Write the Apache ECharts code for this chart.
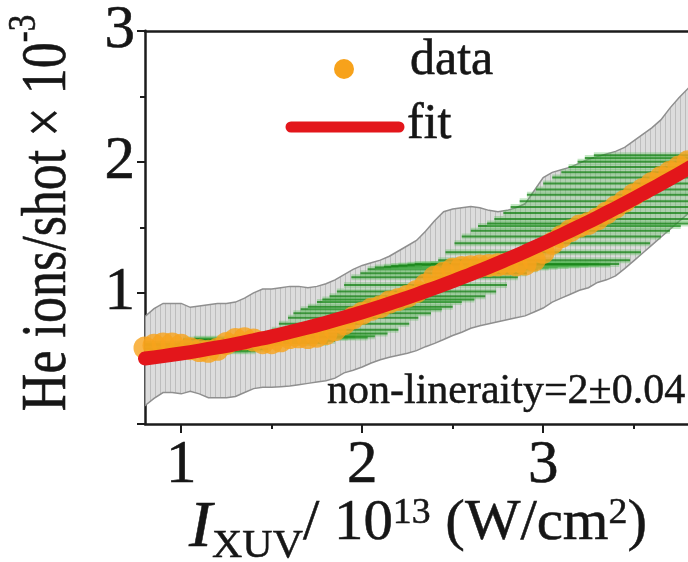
<!DOCTYPE html>
<html>
<head>
<meta charset="utf-8">
<script src="https://cdn.jsdelivr.net/npm/echarts@6/dist/echarts.min.js"></script>
<style>
  html, body { margin: 0; padding: 0; background: #ffffff; }
  #chart { width: 688px; height: 562px; }
</style>
</head>
<body>
<div id="chart"></div>
<script>
// XUV intensity (10^13 W/cm^2) of each measurement
const intensity = [0.80,0.85,0.90,0.95,1.00,1.05,1.10,1.15,1.20,1.25,
  1.30,1.35,1.40,1.45,1.50,1.55,1.60,1.65,1.70,1.75,
  1.80,1.85,1.90,1.95,2.00,2.05,2.10,2.15,2.20,2.25,
  2.30,2.35,2.40,2.45,2.50,2.55,2.60,2.65,2.70,2.75,
  2.80,2.85,2.90,2.95,3.00,3.05,3.10,3.15,3.20,3.25,
  3.30,3.35,3.40,3.45,3.50,3.55,3.60,3.65,3.70,3.75,
  3.80,3.85,3.90];

// He ion yield per shot (x 10^-3)
const ionYield = [0.58,0.60,0.61,0.61,0.60,0.575,0.56,0.555,0.57,0.615,
  0.645,0.65,0.64,0.62,0.62,0.635,0.66,0.665,0.66,0.67,
  0.69,0.72,0.765,0.81,0.845,0.875,0.895,0.93,0.95,0.975,
  1.01,1.06,1.12,1.15,1.18,1.195,1.20,1.205,1.21,1.215,
  1.22,1.215,1.22,1.25,1.31,1.38,1.43,1.475,1.51,1.53,
  1.565,1.61,1.655,1.70,1.75,1.79,1.835,1.88,1.92,1.96,
  2.00,2.03,2.05];

// upper end of the yield error bars
const yieldHigh = [0.82,0.88,0.92,0.92,0.92,0.89,0.90,0.91,0.92,0.92,
  0.93,0.96,1.00,1.03,1.03,1.04,1.05,1.05,1.04,1.05,
  1.07,1.10,1.14,1.18,1.21,1.23,1.25,1.28,1.32,1.36,
  1.40,1.47,1.55,1.62,1.64,1.65,1.66,1.65,1.63,1.62,
  1.63,1.65,1.68,1.78,1.88,1.92,1.94,1.96,1.99,2.02,
  2.04,2.06,2.08,2.11,2.16,2.21,2.26,2.32,2.41,2.49,
  2.56,2.62,2.68];

// lower end of the yield error bars
const yieldLow = [0.14,0.195,0.24,0.24,0.23,0.25,0.23,0.20,0.20,0.20,
  0.21,0.24,0.27,0.28,0.28,0.285,0.29,0.30,0.31,0.32,
  0.33,0.35,0.39,0.41,0.435,0.465,0.49,0.51,0.525,0.54,
  0.56,0.59,0.615,0.645,0.675,0.70,0.73,0.75,0.765,0.78,
  0.795,0.81,0.825,0.855,0.885,0.93,0.96,0.99,1.02,1.04,
  1.08,1.10,1.13,1.185,1.245,1.305,1.365,1.425,1.485,1.545,
  1.605,1.66,1.71];

// half width of the intensity error bars
const intensityErr = [0.22,0.24,0.25,0.24,0.26,0.25,0.27,0.26,0.28,0.27,
  0.29,0.28,0.30,0.29,0.31,0.30,0.32,0.31,0.33,0.32,
  0.34,0.35,0.36,0.36,0.38,0.39,0.40,0.40,0.42,0.43,
  0.44,0.45,0.46,0.46,0.47,0.48,0.48,0.49,0.50,0.50,
  0.51,0.52,0.52,0.53,0.54,0.54,0.55,0.55,0.56,0.56,
  0.57,0.57,0.58,0.58,0.59,0.59,0.60,0.60,0.60,0.61,
  0.61,0.62,0.62];

// power-law fit curve (non-linearity 2)
const fitIntensity = [0.8,0.9,1.0,1.1,1.2,1.3,1.4,1.5,1.6,1.7,1.8,1.9,2.0,2.1,2.2,2.3,
  2.4,2.5,2.6,2.7,2.8,2.9,3.0,3.1,3.2,3.3,3.4,3.5,3.6,3.7,3.8,3.9];
const fitYield = [0.500,0.518,0.538,0.560,0.584,0.610,0.639,0.669,0.702,0.736,0.773,0.812,
  0.853,0.896,0.941,0.988,1.038,1.089,1.143,1.198,1.256,1.316,1.378,1.442,1.508,1.576,
  1.647,1.719,1.794,1.870,1.949,2.030];

// axis ticks
const xTickValues = [1, 2, 3];
const xMinorTickValues = [1.5, 2.5, 3.5];
const yMin = 0, yMax = 3, yStep = 1;

const SERIF = 'Liberation Serif';
const AXIS_COLOR = '#1c1c1c';
const TEXT_COLOR = '#161616';
const ORANGE = '#f7a21b';
const RED = '#e3161b';
// slight outline so the serif glyphs read as heavy as in print
const INK = { textBorderColor: TEXT_COLOR, textBorderWidth: 0.6 };

// light grey fill with fine vertical hatching for the yield error band
function makeHatch() {
  const c = document.createElement('canvas');
  c.width = 5; c.height = 4;
  const g = c.getContext('2d');
  g.fillStyle = '#dcdcdc';
  g.fillRect(0, 0, 5, 4);
  g.fillStyle = '#bdbdbd';
  g.fillRect(0, 0, 1, 4);
  return c;
}
const bandFill = { image: makeHatch(), repeat: 'repeat' };

const points = intensity.map((x, i) => [x, ionYield[i], yieldLow[i], yieldHigh[i], intensityErr[i]]);
const fitLine = fitIntensity.map((x, i) => [x, fitYield[i]]);

const chart = echarts.init(document.getElementById('chart'), null, { renderer: 'canvas' });

chart.setOption({
  backgroundColor: '#ffffff',
  animation: false,
  textStyle: { fontFamily: SERIF },
  grid: { left: 145, right: 0, top: 24, bottom: 138 },
  xAxis: [
    {
      type: 'value', position: 'bottom', min: 0.8, max: 3.8,
      axisLine: { show: true, lineStyle: { color: AXIS_COLOR, width: 2.5 } },
      axisTick: { show: true, customValues: xTickValues, length: 9, lineStyle: { color: AXIS_COLOR, width: 2 } },
      axisLabel: Object.assign({ show: true, customValues: xTickValues, margin: 11, color: TEXT_COLOR,
        fontFamily: SERIF, fontSize: 61 }, INK),
      splitLine: { show: false }
    },
    {
      type: 'value', position: 'bottom', min: 0.8, max: 3.8,
      axisLine: { show: false },
      axisTick: { show: true, customValues: xMinorTickValues, length: 5, lineStyle: { color: AXIS_COLOR, width: 2 } },
      axisLabel: { show: false },
      splitLine: { show: false }
    },
    {
      type: 'value', position: 'top', min: 0.8, max: 3.8,
      axisLine: { show: true, lineStyle: { color: AXIS_COLOR, width: 2.5 } },
      axisTick: { show: false }, axisLabel: { show: false }, splitLine: { show: false }
    }
  ],
  yAxis: {
    type: 'value', min: yMin, max: yMax, interval: yStep,
    axisLine: { show: true, lineStyle: { color: AXIS_COLOR, width: 2.5 } },
    axisTick: { show: true, length: 8, lineStyle: { color: AXIS_COLOR, width: 2 } },
    minorTick: { show: true, splitNumber: 2, length: 5, lineStyle: { color: AXIS_COLOR, width: 2 } },
    axisLabel: Object.assign({ show: true, showMinLabel: false, margin: 10, color: TEXT_COLOR,
      fontFamily: SERIF, fontSize: 61 }, INK),
    splitLine: { show: false }
  },
  series: [
    {
      // yield error band
      type: 'custom', name: 'yield error', z: 1, clip: true,
      xAxisIndex: 0, yAxisIndex: 0,
      data: points,
      encode: { x: 0, y: [2, 3] },
      renderItem: function (params, api) {
        if (params.dataIndex !== 0) return null;
        const upper = points.map(p => api.coord([p[0], p[3]]));
        const lower = points.map(p => api.coord([p[0], p[2]])).reverse();
        return {
          type: 'polygon',
          shape: { points: upper.concat(lower) },
          style: { fill: bandFill, stroke: '#8f8f8f', lineWidth: 1.5 }
        };
      }
    },
    {
      // intensity error bars
      type: 'custom', name: 'intensity error', z: 2, clip: true,
      xAxisIndex: 0, yAxisIndex: 0,
      data: points,
      encode: { x: 0, y: 1 },
      renderItem: function (params, api) {
        const x = api.value(0), y = api.value(1), e = api.value(4);
        const a = api.coord([x - e, y]);
        const b = api.coord([x + e, y]);
        const shape = { x1: a[0], y1: a[1], x2: b[0], y2: b[1] };
        return {
          type: 'group',
          children: [
            { type: 'line', shape: shape, style: { stroke: 'rgba(90,185,90,0.35)', lineWidth: 6 } },
            { type: 'line', shape: shape, style: { stroke: 'rgba(20,130,20,0.75)', lineWidth: 2 } }
          ]
        };
      }
    },
    {
      type: 'scatter', name: 'data', z: 3,
      xAxisIndex: 0, yAxisIndex: 0,
      data: points.map(p => [p[0], p[1]]),
      symbol: 'circle', symbolSize: 23,
      itemStyle: { color: ORANGE }
    },
    {
      type: 'line', name: 'fit', z: 4,
      xAxisIndex: 0, yAxisIndex: 0,
      data: fitLine, smooth: true, showSymbol: false,
      lineStyle: { color: RED, width: 14, cap: 'round' }
    }
  ],
  graphic: [
    // legend
    { type: 'circle', shape: { cx: 344, cy: 69, r: 10 }, style: { fill: ORANGE }, z: 10 },
    { type: 'text', x: 410, y: 61, z: 10,
      style: { text: 'data', font: '50px Liberation Serif', fill: TEXT_COLOR, stroke: TEXT_COLOR, lineWidth: 0.6,
        align: 'left', verticalAlign: 'middle' } },
    { type: 'line', shape: { x1: 291, y1: 127, x2: 399, y2: 127 }, z: 10,
      style: { stroke: RED, lineWidth: 11, lineCap: 'round' } },
    { type: 'text', x: 407, y: 125, z: 10,
      style: { text: 'fit', font: '50px Liberation Serif', fill: TEXT_COLOR, stroke: TEXT_COLOR, lineWidth: 0.6,
        align: 'left', verticalAlign: 'middle' } },
    // fit result
    { type: 'text', x: 327, y: 392, z: 10,
      style: { text: 'non-lineraity=2\u00b10.04', font: '42px Liberation Serif', fill: TEXT_COLOR,
        stroke: TEXT_COLOR, lineWidth: 0.5, align: 'left', verticalAlign: 'middle' } },
    // y axis title
    { type: 'text', x: -5, y: 213, rotation: Math.PI / 2, scaleY: 1.2, z: 10,
      style: {
        text: '{m|He ions/shot \u00d7 10}{s|-3}',
        align: 'center', verticalAlign: 'top', fill: TEXT_COLOR, stroke: TEXT_COLOR, lineWidth: 0.5,
        rich: {
          m: { fontFamily: SERIF, fontSize: 52, lineHeight: 52, padding: [19, 0, 0, 0], verticalAlign: 'top', fill: TEXT_COLOR },
          s: { fontFamily: SERIF, fontSize: 33, lineHeight: 33, padding: [8, 0, 0, 0], verticalAlign: 'top', fill: TEXT_COLOR }
        }
      } },
    // x axis title
    { type: 'text', x: 418, y: 486, scaleX: 1.05, z: 10,
      style: {
        text: '{i|I}{b|XUV}{m|/ 10}{p|13}{m| (W/cm}{p|2}{m|)}',
        align: 'center', verticalAlign: 'top', fill: TEXT_COLOR, stroke: TEXT_COLOR, lineWidth: 0.5,
        rich: {
          i: { fontFamily: SERIF, fontStyle: 'italic', fontSize: 66, lineHeight: 66, padding: [10, 0, 0, 0], verticalAlign: 'top', fill: TEXT_COLOR },
          b: { fontFamily: SERIF, fontSize: 40, lineHeight: 40, padding: [40, 0, 0, 0], verticalAlign: 'top', fill: TEXT_COLOR },
          m: { fontFamily: SERIF, fontSize: 56, lineHeight: 56, padding: [10, 0, 0, 0], verticalAlign: 'top', fill: TEXT_COLOR },
          p: { fontFamily: SERIF, fontSize: 36, lineHeight: 36, padding: [10, 0, 0, 0], verticalAlign: 'top', fill: TEXT_COLOR }
        }
      } }
  ]
});
</script>
</body>
</html>
